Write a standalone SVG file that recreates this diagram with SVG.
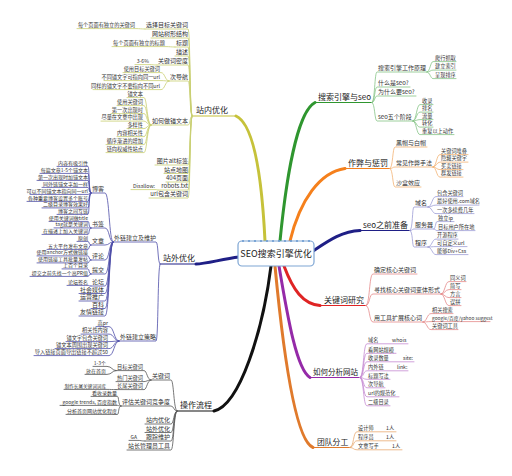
<svg xmlns="http://www.w3.org/2000/svg" width="512" height="476" viewBox="0 0 512 476">
<style>
text{font-family:"Noto Sans CJK SC","Noto Sans",sans-serif;fill:#333}
.m{font-size:8px;fill:#222}
.s{font-size:6px}
.l{font-size:5.2px}
.x{font-size:5px}
.e{text-anchor:end}
path{fill:none;stroke-linecap:round;stroke-linejoin:round}
.mn{stroke-width:3}
.ul{stroke-width:1.2}
.sb path{stroke-width:0.8}
.Y{stroke:#c6c23a}.Ys path,.Ys{stroke:#c9cf72}
.G{stroke:#2f962f}.Gs path{stroke:#86c486}
.O{stroke:#f5801c}.Os path{stroke:#f3b273}
.N{stroke:#1f1f86}.Ns path{stroke:#9d9dd6}.Nl path{stroke:#4e4ea8}
.R{stroke:#df2424}.Rs path{stroke:#e58a8a}
.P{stroke:#952aa8}.Ps path{stroke:#c58ad2}
.B{stroke:#e07a2c}.Bs path{stroke:#e9ab72}
.K{stroke:#111}.Ks path{stroke:#555}
</style>
<rect width="512" height="476" fill="#fff"/>
<g id="connectors">
<!-- 站内优化 -->
<path class="mn Y" d="M265,241 C262,180 254,124 236,116"/><path class="ul Y" d="M236,116 L192,116"/>
<g class="sb Ys">
<path d="M192,116 C189.5,116 190.5,29 188,29 L145,29"/>
<path d="M192,116 C189.5,116 190.5,38 188,38 L151,38"/>
<path d="M192,116 C189.5,116 190.5,47 188,47 L175,47"/>
<path d="M192,116 C189.5,116 190.5,56 188,56 L175,56"/>
<path d="M192,116 C189.5,116 190.5,65 188,65 L157,65"/>
<path d="M192,116 C189.5,116 190.5,81 188,81 L169,81"/>
<path d="M192,116 C189.5,116 190.5,125 188,125 L151,125"/>
<path d="M192,116 C189.5,116 190.5,165 188,165 L155,165"/>
<path d="M192,116 C189.5,116 190.5,173.5 188,173.5 L164,173.5"/>
<path d="M192,116 C189.5,116 190.5,182 188,182 L166,182"/>
<path d="M192,116 C189.5,116 190.5,190 188,190 L158,190"/>
<path d="M192,116 C189.5,116 190.5,198 188,198 L149,198"/>
<path d="M145,29 C141,29 140,28.6 136,28.6 L77,28.6"/>
<path d="M175,47 C171,47 170,46.6 166,46.6 L112,46.6"/>
<path d="M157,65 C153,65 153,64.6 150,64.6 L135,64.6"/>
<path d="M169,81 C165,81 165,72.6 161,72.6 L123,72.6"/>
<path d="M169,81 C165,81 165,80.6 161,80.6 L104,80.6"/>
<path d="M169,81 C165,81 165,89.6 161,89.6 L93,89.6"/>
<path d="M151,125 C147,125 147,97.6 144,97.6 L127,97.6"/>
<path d="M151,125 C147,125 147,105.6 144,105.6 L117,105.6"/>
<path d="M151,125 C147,125 147,113.6 144,113.6 L111,113.6"/>
<path d="M151,125 C147,125 147,121.1 144,121.1 L101,121.1"/>
<path d="M151,125 C147,125 147,128.6 144,128.6 L127,128.6"/>
<path d="M151,125 C147,125 147,136.6 144,136.6 L117,136.6"/>
<path d="M151,125 C147,125 147,144.6 144,144.6 L106,144.6"/>
<path d="M151,125 C147,125 147,152.6 144,152.6 L106,152.6"/>
<path d="M158,190 C157,190 157,189.6 156,189.6 L131,189.6"/>
</g>
<!-- 站外优化 -->
<path class="mn N" d="M239,257 C222,259 206,264 196,264"/><path class="ul N" d="M196,264 L160,264"/>
<g class="sb Nl">
<path d="M160,264 C157.5,264 158.5,242 156,242 L113,242"/>
<path d="M160,264 C157.5,264 158.5,341 156,341 L119,341"/>
<path d="M113,242 C109,242 109.5,193 105,193 L91,193"/>
<path d="M113,242 C109,242 109.5,228 105,228 L91,228"/>
<path d="M113,242 C109,242 109.5,245 105,245 L91,245"/>
<path d="M113,242 C109,242 109.5,260 105,260 L91,260"/>
<path d="M113,242 C109,242 109.5,274 105,274 L91,274"/>
<path d="M113,242 C109,242 109.5,286 105,286 L91,286"/>
<path d="M113,242 C109,242 109.5,293.5 105,293.5 L79,293.5"/>
<path d="M113,242 C109,242 109.5,301 105,301 L79,301"/>
<path d="M113,242 C109,242 109.5,308.5 105,308.5 L91,308.5"/>
<path d="M113,242 C109,242 109.5,316 105,316 L79,316"/>
<path d="M91,193 C88.5,193 89.5,166.4 88,166.4 L57,166.4"/>
<path d="M91,193 C88.5,193 89.5,173.4 88,173.4 L40,173.4"/>
<path d="M91,193 C88.5,193 89.5,180.4 88,180.4 L37,180.4"/>
<path d="M91,193 C88.5,193 89.5,187.4 88,187.4 L42,187.4"/>
<path d="M91,193 C88.5,193 89.5,194.4 88,194.4 L30,194.4"/>
<path d="M91,193 C88.5,193 89.5,201.4 88,201.4 L27,201.4"/>
<path d="M91,193 C88.5,193 89.5,207.9 88,207.9 L42,207.9"/>
<path d="M91,193 C88.5,193 89.5,214.4 88,214.4 L57,214.4"/>
<path d="M91,228 C88.5,228 89.5,221.4 88,221.4 L49,221.4"/>
<path d="M91,228 C88.5,228 89.5,227.9 88,227.9 L54,227.9"/>
<path d="M91,228 C88.5,228 89.5,234.4 88,234.4 L42,234.4"/>
<path d="M91,245 C88.5,245 89.5,241.4 88,241.4 L77,241.4"/>
<path d="M91,245 C88.5,245 89.5,249.4 88,249.4 L47,249.4"/>
<path d="M91,260 C88.5,260 89.5,255.9 88,255.9 L37,255.9"/>
<path d="M91,260 C88.5,260 89.5,262.9 88,262.9 L37,262.9"/>
<path d="M91,274 C88.5,274 89.5,268.9 88,268.9 L62,268.9"/>
<path d="M91,274 C88.5,274 89.5,276.4 88,276.4 L30,276.4"/>
<path d="M91,286 C88.5,286 89.5,285.4 88,285.4 L67,285.4"/>
<path d="M119,341 C114,341 114,326.6 109,326.6 L96,326.6"/>
<path d="M119,341 C114,341 114,334.1 109,334.1 L81,334.1"/>
<path d="M119,341 C114,341 114,341.6 109,341.6 L66,341.6"/>
<path d="M119,341 C114,341 114,348.6 109,348.6 L55,348.6"/>
<path d="M119,341 C114,341 114,355.6 109,355.6 L34,355.6"/>
</g>
<!-- 操作流程 -->
<path class="mn K" d="M271,266 C263,330 240,405 214,411"/><path class="ul K" d="M214,411 L177,411"/>
<g class="sb Ks">
<path d="M177,411 C173.5,411 174,380 171,380 L151,380"/>
<path d="M177,411 C173.5,411 174,406 171,406 L121,406"/>
<path d="M177,411 C173.5,411 174,424 171,424 L145,424"/>
<path d="M177,411 C173.5,411 174,432.5 171,432.5 L145,432.5"/>
<path d="M177,411 C173.5,411 174,441 171,441 L145,441"/>
<path d="M177,411 C173.5,411 174,450 171,450 L127,450"/>
<path d="M151,380 C147,380 147,370.6 144,370.6 L116,370.6"/>
<path d="M151,380 C147,380 147,381.6 144,381.6 L116,381.6"/>
<path d="M151,380 C147,380 147,389.6 144,389.6 L116,389.6"/>
<path d="M116,370.6 C112,370.6 112,366.4 107,366.4 L93,366.4"/>
<path d="M116,370.6 C112,370.6 112,374.4 107,374.4 L85,374.4"/>
<path d="M116,389.6 C112,389.6 111,389.4 107,389.4 L64,389.4"/>
<path d="M121,406 C118,406 119,396.4 117.5,396.4 L91,396.4"/>
<path d="M121,406 C118,406 119,405.4 117.5,405.4 L60,405.4"/>
<path d="M121,406 C118,406 119,414.4 117.5,414.4 L66,414.4"/>
<path d="M145,441 C141,441 141,440.4 138,440.4 L129,440.4"/>
</g>
<!-- 搜索引擎与seo -->
<path class="mn G" d="M280,241 C286,180 297,112 315,102.5"/><path class="ul G" d="M315,102.5 L372,102.5"/>
<g class="sb Gs">
<path d="M372,102.5 C375,102.5 374.5,72 377,72 L427,72"/>
<path d="M372,102.5 C375,102.5 374.5,87 377,87 L410,87"/>
<path d="M372,102.5 C375,102.5 374.5,96 377,96 L416,96"/>
<path d="M372,102.5 C375,102.5 374.5,121 377,121 L413,121"/>
<path d="M427,72 C430,72 430.5,61.6 433,61.6 L456,61.6"/>
<path d="M427,72 C430,72 430.5,70.1 433,70.1 L456,70.1"/>
<path d="M427,72 C430,72 430.5,78.6 433,78.6 L456,78.6"/>
<path d="M413,121 C416.5,121 416.5,104.6 420,104.6 L433,104.6"/>
<path d="M413,121 C416.5,121 416.5,112.1 420,112.1 L433,112.1"/>
<path d="M413,121 C416.5,121 416.5,119.6 420,119.6 L433,119.6"/>
<path d="M413,121 C416.5,121 416.5,127.1 420,127.1 L433,127.1"/>
<path d="M413,121 C416.5,121 416.5,134.6 420,134.6 L454,134.6"/>
</g>
<!-- 作弊与惩罚 -->
<path class="mn O" d="M290,241 C300,200 320,172 345,168.5"/><path class="ul O" d="M345,168.5 L390,168.5"/>
<g class="sb Os">
<path d="M390,168.5 C393,168.5 392.5,147 395,147 L427,147"/>
<path d="M390,168.5 C393,168.5 392.5,167 395,167 L433,167"/>
<path d="M390,168.5 C393,168.5 392.5,187 395,187 L421,187"/>
<path d="M433,167 C436.5,167 436.5,154.6 440,154.6 L468,154.6"/>
<path d="M433,167 C436.5,167 436.5,162.1 440,162.1 L468,162.1"/>
<path d="M433,167 C436.5,167 436.5,169.6 440,169.6 L463,169.6"/>
<path d="M433,167 C436.5,167 436.5,177.1 440,177.1 L463,177.1"/>
</g>
<!-- seo之前准备 -->
<path class="mn N" d="M313,251 C328,241 342,231 360,230.5"/><path class="ul N" d="M360,230.5 L410,230.5"/>
<g class="sb Ns">
<path d="M410,230.5 C413,230.5 412,207 414,207 L428,207"/>
<path d="M410,230.5 C413,230.5 412,229 414,229 L434,229"/>
<path d="M410,230.5 C413,230.5 412,247 414,247 L428,247"/>
<path d="M428,207 C432,207 432,196.6 436,196.6 L463,196.6"/>
<path d="M428,207 C432,207 432,205.1 436,205.1 L479,205.1"/>
<path d="M428,207 C432,207 432,213.6 436,213.6 L474,213.6"/>
<path d="M434,229 C435.5,229 435.5,221.6 437,221.6 L454,221.6"/>
<path d="M434,229 C435.5,229 435.5,230.6 437,230.6 L475,230.6"/>
<path d="M428,247 C432,247 432,239.1 436,239.1 L458,239.1"/>
<path d="M428,247 C432,247 432,246.6 436,246.6 L467,246.6"/>
<path d="M428,247 C432,247 432,254.6 436,254.6 L468,254.6"/>
</g>
<!-- 关键词研究 -->
<path class="mn R" d="M284,266 C293,290 303,304 320,305.5"/><path class="ul R" d="M320,305.5 L366,305.5"/>
<g class="sb Rs">
<path d="M366,305.5 C370,305.5 369,274 373,274 L417,274"/>
<path d="M366,305.5 C370,305.5 369,294 373,294 L441,294"/>
<path d="M366,305.5 C370,305.5 369,322 373,322 L423,322"/>
<path d="M441,294 C445,294 445,281.6 449,281.6 L466,281.6"/>
<path d="M441,294 C445,294 445,289.6 449,289.6 L461,289.6"/>
<path d="M441,294 C445,294 445,297.6 449,297.6 L461,297.6"/>
<path d="M441,294 C445,294 445,305.6 449,305.6 L461,305.6"/>
<path d="M423,322 C427,322 427,313.6 431,313.6 L453,313.6"/>
<path d="M423,322 C427,322 427,321.6 431,321.6 L490,321.6"/>
<path d="M423,322 C427,322 427,329.6 431,329.6 L458,329.6"/>
</g>
<!-- 如何分析网站 -->
<path class="mn P" d="M279,266 C288,320 297,370 310,377.5"/><path class="ul P" d="M310,377.5 L360,377.5"/>
<g class="sb Ps">
<path d="M360,377.5 C364,377.5 363,343.8 367,343.8 L408,343.8"/>
<path d="M360,377.5 C364,377.5 363,353.3 367,353.3 L396,353.3"/>
<path d="M360,377.5 C364,377.5 363,361.8 367,361.8 L414,361.8"/>
<path d="M360,377.5 C364,377.5 363,370.8 367,370.8 L408,370.8"/>
<path d="M360,377.5 C364,377.5 363,379.3 367,379.3 L390,379.3"/>
<path d="M360,377.5 C364,377.5 363,387.8 367,387.8 L385,387.8"/>
<path d="M360,377.5 C364,377.5 363,396.8 367,396.8 L399,396.8"/>
<path d="M360,377.5 C364,377.5 363,405.8 367,405.8 L390,405.8"/>
</g>
<!-- 团队分工 -->
<path class="mn B" d="M275,266 C282,340 294,440 313,447.5"/><path class="ul B" d="M313,447.5 L350,447.5"/>
<g class="sb Bs">
<path d="M350,447.5 C354,447.5 353,431.8 357,431.8 L396,431.8"/>
<path d="M350,447.5 C354,447.5 353,440.8 357,440.8 L396,440.8"/>
<path d="M350,447.5 C354,447.5 353,449.8 357,449.8 L402,449.8"/>
</g>
</g>
<g id="center">
<rect x="238" y="241" width="76" height="25" rx="4" fill="#fff" stroke="#7ea6d4" stroke-width="1.2"/>
<g fill="#6d9bd1"><circle cx="243" cy="241" r="1.1"/><circle cx="249" cy="241" r="1.1"/><circle cx="255" cy="241" r="1.1"/><circle cx="261" cy="241" r="1.1"/><circle cx="267" cy="241" r="1.1"/><circle cx="273" cy="241" r="1.1"/><circle cx="279" cy="241" r="1.1"/><circle cx="285" cy="241" r="1.1"/><circle cx="291" cy="241" r="1.1"/><circle cx="297" cy="241" r="1.1"/><circle cx="303" cy="241" r="1.1"/><circle cx="309" cy="241" r="1.1"/></g>
<text x="276" y="257" text-anchor="middle" style="font-size:9px;fill:#222">SEO搜索引擎优化</text>
</g>
<!-- 站内优化 nodes -->
<g id="zn"><text class="m" x="196" y="113">站内优化</text></g>
<g id="zn1"><text class="s e" x="188" y="27.2">选择目标关键词</text></g>
<g id="zn1a"><text class="l e" x="135" y="26.9">每个页面有独立的关键词</text></g>
<g id="zn2"><text class="s e" x="188" y="36.2">网站树形结构</text></g>
<g id="zn3"><text class="s e" x="188" y="45.2">标题</text></g>
<g id="zn3a"><text class="l e" x="165" y="44.9">每个页面有独立的标题</text></g>
<g id="zn4"><text class="s e" x="188" y="54.2">描述</text></g>
<g id="zn5"><text class="s e" x="188" y="63.2">关键词密度</text></g>
<g id="zn5a"><text class="l e" x="149" y="62.9">3-6%</text></g>
<g id="zn6"><text class="s e" x="188" y="79.2">次导航</text></g>
<g id="zn6a"><text class="l e" x="160" y="70.9">使用目标关键词</text></g>
<g id="zn6b"><text class="l e" x="160" y="78.9">不同锚文字可指向同一url</text></g>
<g id="zn6c"><text class="l e" x="160" y="87.9">同样的锚文字不要指向不同url</text></g>
<g id="zn7"><text class="s e" x="188" y="123.2">如何做锚文本</text></g>
<g id="zn7a"><text class="l e" x="143" y="95.9">锚文本</text></g>
<g id="zn7b"><text class="l e" x="143" y="103.9">使用关键词</text></g>
<g id="zn7c"><text class="l e" x="143" y="111.9">第一次出现时</text></g>
<g id="zn7d"><text class="l e" x="143" y="119.4">尽量在文章中出现</text></g>
<g id="zn7e"><text class="l e" x="143" y="126.9">多样性</text></g>
<g id="zn7f"><text class="l e" x="143" y="134.9">内容相关性</text></g>
<g id="zn7g"><text class="l e" x="143" y="142.9">循序渐进的增加</text></g>
<g id="zn7h"><text class="l e" x="143" y="150.9">链向权威性站点</text></g>
<g id="zn8"><text class="s e" x="188" y="163.2">图片alt标签</text></g>
<g id="zn9"><text class="s e" x="188" y="171.7">站点地图</text></g>
<g id="zn10"><text class="s e" x="188" y="180.2">404页面</text></g>
<g id="zn11"><text class="s e" x="188" y="188.2">robots.txt</text></g>
<g id="zn11a"><text class="l e" x="155" y="187.9">Disallow:</text></g>
<g id="zn12"><text class="s e" x="188" y="196.2">url包含关键词</text></g>
<!-- 站外优化 nodes -->
<g id="zw"><text class="m" x="163" y="261">站外优化</text></g>
<g id="zw1"><text class="s e" x="156" y="240.2">外链建立及维护</text></g>
<g id="zw2"><text class="s e" x="156" y="339.2">外链建立策略</text></g>
<g id="zw1a"><text class="s e" x="104" y="191.2">博客</text></g>
<g id="zw1b"><text class="s e" x="104" y="226.2">书签</text></g>
<g id="zw1c"><text class="s e" x="104" y="243.2">文章</text></g>
<g id="zw1d"><text class="s e" x="104" y="258.2">评论</text></g>
<g id="zw1e"><text class="s e" x="104" y="272.2">提交</text></g>
<g id="zw1f"><text class="s e" x="104" y="284.2">论坛</text></g>
<g id="zw1g"><text class="s e" x="104" y="291.7">社会媒体</text></g>
<g id="zw1h"><text class="s e" x="104" y="299.2">运营推广</text></g>
<g id="zw1i"><text class="s e" x="104" y="306.7">百科</text></g>
<g id="zw1j"><text class="s e" x="104" y="314.2">友情链接</text></g>
<g id="bk1"><text class="x e" x="88" y="164.8">内容有吸引性</text></g>
<g id="bk2"><text class="x e" x="88" y="171.8">每篇文章1-5个锚文本</text></g>
<g id="bk3"><text class="x e" x="88" y="178.8">第一次出现时加锚文本</text></g>
<g id="bk4"><text class="x e" x="88" y="185.8">同外链锚文字加一样</text></g>
<g id="bk5"><text class="x e" x="88" y="192.8">可以不同锚文本指向同一url</text></g>
<g id="bk6"><text class="x e" x="88" y="199.8">各种重要博客设置多个账号</text></g>
<g id="bk7"><text class="x e" x="88" y="206.3">二级目录博客效果好</text></g>
<g id="bk8"><text class="x e" x="88" y="212.8">博客之间互链</text></g>
<g id="sq1"><text class="x e" x="88" y="219.8">使用关键词做title</text></g>
<g id="sq2"><text class="x e" x="88" y="226.3">tag就是关键词</text></g>
<g id="sq3"><text class="x e" x="88" y="232.8">在描述上加入关键词</text></g>
<g id="wz1"><text class="x e" x="88" y="239.8">原创</text></g>
<g id="wz2"><text class="x e" x="88" y="247.8">五大平台发布文章</text></g>
<g id="pl1"><text class="x e" x="88" y="254.3">使用anchor方式做链接</text></g>
<g id="pl2"><text class="x e" x="88" y="261.3">使用链接工具批量发帖</text></g>
<g id="tj1"><text class="x e" x="88" y="267.3">上百个目录</text></g>
<g id="tj2"><text class="x e" x="88" y="274.8">提交之前先找一个高PR值</text></g>
<g id="lt1"><text class="x e" x="88" y="283.8">论坛签名</text></g>
<g id="cl1"><text class="l e" x="108" y="324.9">高pr</text></g>
<g id="cl2"><text class="l e" x="108" y="332.4">相关性内容</text></g>
<g id="cl3"><text class="l e" x="108" y="339.9">锚文字包含关键词</text></g>
<g id="cl4"><text class="l e" x="108" y="346.9">锚文本周围出现关键词</text></g>
<g id="cl5"><text class="l e" x="108" y="353.9">导入链接页面导出链接不超过50</text></g>
<!-- 操作流程 nodes -->
<g id="cz"><text class="m" x="180" y="408">操作流程</text></g>
<g id="cz1"><text class="s e" x="170" y="378.2">关键词</text></g>
<g id="cz2"><text class="s e" x="170" y="404.2">评估关键词竞争度</text></g>
<g id="cz3"><text class="s e" x="170" y="422.2">站内优化</text></g>
<g id="cz4"><text class="s e" x="170" y="430.7">站外优化</text></g>
<g id="cz5"><text class="s e" x="170" y="439.2">跟踪维护</text></g>
<g id="cz6"><text class="s e" x="170" y="448.2">站长管理员工具</text></g>
<g id="cz1a"><text class="l e" x="143" y="368.9">目标关键词</text></g>
<g id="cz1b"><text class="l e" x="143" y="379.9">热门关键词</text></g>
<g id="cz1c"><text class="l e" x="143" y="387.9">长尾关键词</text></g>
<g id="cz1a1"><text class="x e" x="106" y="364.8">1-3个</text></g>
<g id="cz1a2"><text class="x e" x="106" y="372.8">放在首页</text></g>
<g id="cz1c1"><text class="e" x="106" y="387.7" style="font-size:4.6px">制作长尾关键词词库</text></g>
<g id="cz2a"><text class="x e" x="117" y="394.8">看收录数量</text></g>
<g id="cz2b"><text class="x e" x="117" y="403.8">google trends, 百度指数</text></g>
<g id="cz2c"><text class="x e" x="117" y="412.8">分析首页网站优化程度</text></g>
<g id="cz5a"><text class="x e" x="137" y="438.8">GA</text></g>
<!-- 搜索引擎与seo nodes -->
<g id="ss"><text class="m" x="318" y="100">搜索引擎与seo</text></g>
<g id="ss1"><text class="s" x="378" y="70.2">搜索引擎工作原理</text></g>
<g id="ss2"><text class="s" x="378" y="85.2">什么是seo?</text></g>
<g id="ss3"><text class="s" x="378" y="94.2">为什么要seo?</text></g>
<g id="ss4"><text class="s" x="378" y="119.2">seo五个阶段</text></g>
<g id="ss1a"><text class="l" x="435" y="59.9">爬行抓取</text></g>
<g id="ss1b"><text class="l" x="435" y="68.4">建立索引</text></g>
<g id="ss1c"><text class="l" x="435" y="76.9">呈现排序</text></g>
<g id="ss4a"><text class="l" x="422" y="102.9">收录</text></g>
<g id="ss4b"><text class="l" x="422" y="110.4">排名</text></g>
<g id="ss4c"><text class="l" x="422" y="117.9">流量</text></g>
<g id="ss4d"><text class="l" x="422" y="125.4">转化</text></g>
<g id="ss4e"><text class="l" x="422" y="132.9">重复以上动作</text></g>
<!-- 作弊与惩罚 nodes -->
<g id="zb"><text class="m" x="348" y="166">作弊与惩罚</text></g>
<g id="zb1"><text class="s" x="396" y="145.2">黑帽与白帽</text></g>
<g id="zb2"><text class="s" x="396" y="165.2">常见作弊手法</text></g>
<g id="zb3"><text class="s" x="396" y="185.2">沙盒效应</text></g>
<g id="zb2a"><text class="l" x="441" y="152.9">关键词堆叠</text></g>
<g id="zb2b"><text class="l" x="441" y="160.4">隐藏关键字</text></g>
<g id="zb2c"><text class="l" x="441" y="167.9">买卖链接</text></g>
<g id="zb2d"><text class="l" x="441" y="175.4">群发链接</text></g>
<!-- seo之前准备 nodes -->
<g id="zb0"><text class="m" x="363" y="228">seo之前准备</text></g>
<g id="qb1"><text class="s" x="415" y="205.2">域名</text></g>
<g id="qb2"><text class="s" x="415" y="227.2">服务器</text></g>
<g id="qb3"><text class="s" x="415" y="245.2">程序</text></g>
<g id="qb1a"><text class="l" x="437" y="194.9">包含关键词</text></g>
<g id="qb1b"><text class="l" x="437" y="203.4">最好使用.com域名</text></g>
<g id="qb1c"><text class="l" x="437" y="211.9">一次多续费几年</text></g>
<g id="qb2a"><text class="l" x="438" y="219.9">独立ip</text></g>
<g id="qb2b"><text class="l" x="438" y="228.9">目标用户所在地</text></g>
<g id="qb3a"><text class="l" x="437" y="237.4">开源程序</text></g>
<g id="qb3b"><text class="l" x="437" y="244.9">可自定义url</text></g>
<g id="qb3c"><text class="l" x="437" y="252.9">能够Div+Css</text></g>
<!-- 关键词研究 nodes -->
<g id="gj"><text class="m" x="324" y="303">关键词研究</text></g>
<g id="gj1"><text class="s" x="374" y="272.2">确定核心关键词</text></g>
<g id="gj2"><text class="s" x="374" y="292.2">寻找核心关键词变体形式</text></g>
<g id="gj3"><text class="s" x="374" y="320.2">用工具扩展核心词</text></g>
<g id="gj2a"><text class="l" x="450" y="279.9">同义词</text></g>
<g id="gj2b"><text class="l" x="450" y="287.9">简写</text></g>
<g id="gj2c"><text class="l" x="450" y="295.9">方言</text></g>
<g id="gj2d"><text class="l" x="450" y="303.9">误拼</text></g>
<g id="gj3a"><text class="l" x="432" y="311.9">相关搜索</text></g>
<g id="gj3b"><text x="432" y="319.9" style="font-size:4.8px">google/百度/yahoo suggest</text></g>
<g id="gj3c"><text class="l" x="432" y="327.9">关键词工具</text></g>
<!-- 如何分析网站 nodes -->
<g id="fx"><text x="313" y="375" style="font-size:7.5px;fill:#222">如何分析网站</text></g>
<g id="fx1"><text class="l" x="368" y="342">域名</text><text class="l" x="392" y="342">whois</text></g>
<g id="fx2"><text class="l" x="368" y="351.5">看网站规模</text></g>
<g id="fx3"><text class="l" x="368" y="360">收录数量</text><text class="l" x="403" y="360">site:</text></g>
<g id="fx4"><text class="l" x="368" y="369">内外链</text><text class="l" x="397" y="369">link:</text></g>
<g id="fx5"><text class="l" x="368" y="377.5">标题写法</text></g>
<g id="fx6"><text class="l" x="368" y="386">次导航</text></g>
<g id="fx7"><text class="l" x="368" y="395">url的规范化</text></g>
<g id="fx8"><text class="l" x="368" y="404">二级目录</text></g>
<!-- 团队分工 nodes -->
<g id="td"><text x="317" y="445" style="font-size:7.8px;fill:#222">团队分工</text></g>
<g id="td1"><text class="l" x="358" y="430">设计师</text><text class="l" x="386" y="430">1人</text></g>
<g id="td2"><text class="l" x="358" y="439">程序员</text><text class="l" x="386" y="439">1人</text></g>
<g id="td3"><text class="l" x="358" y="448">文章写手</text><text class="l" x="392" y="448">1人</text></g>
</svg>
